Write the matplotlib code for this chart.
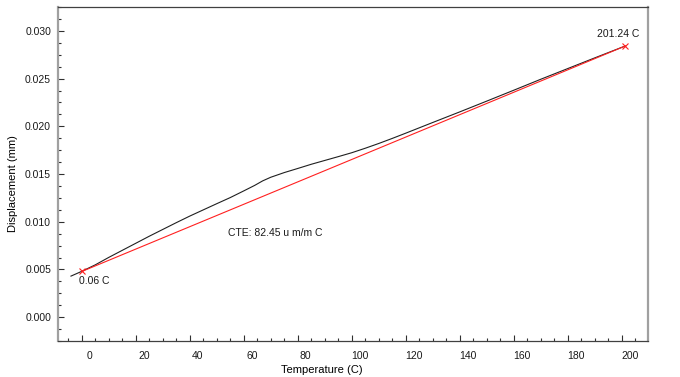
import matplotlib
matplotlib.use("Agg")
from matplotlib import pyplot as plt
from matplotlib.ticker import MultipleLocator
from matplotlib.transforms import ScaledTranslation

# measured curve (temperature in C, displacement in mm)
temp = [-4, 0, 5, 10, 15, 20, 25, 30, 35, 40, 45, 50, 55, 60, 64, 67, 70, 75, 80,
        85, 90, 95, 100, 105, 110, 115, 120, 130, 140, 150, 160, 170, 180, 190, 201.24]
disp = [0.00430, 0.00480, 0.00548, 0.00626, 0.00700, 0.00774, 0.00848, 0.00919,
        0.00990, 0.01059, 0.01124, 0.01189, 0.01253, 0.01323, 0.01380, 0.01428,
        0.01466, 0.01515, 0.01558, 0.01602, 0.01642, 0.01682, 0.01723, 0.01770,
        0.01820, 0.01873, 0.01928, 0.02040, 0.02151, 0.02264, 0.02378, 0.02493,
        0.02605, 0.02717, 0.02841]

# CTE fit line end points
fit_t = [0.06, 201.24]
fit_d = [0.00479, 0.02841]
cte_text = "CTE: 82.45 u m/m C"

plt.rcParams['font.family'] = ['Liberation Sans', 'DejaVu Sans']
plt.rcParams['font.size'] = 7.5
plt.rcParams['text.color'] = '#1a1a1a'

fig = plt.figure(figsize=(6.8, 3.77), dpi=100)
ax = fig.add_axes([58 / 680, 36 / 377, 590 / 680, 334 / 377])

ax.plot(temp, disp, c='#202020', lw=0.8)
ax.plot(fit_t, fit_d, c='#ff2020', lw=0.8)
ax.plot(fit_t, fit_d, ls='none', marker='x', ms=5, mew=0.8, c='#ff2020')

ax.text(-1, 0.00377, "%.2f C" % fit_t[0], va='center', ha='left')
ax.text(198.5, 0.0297, "%.2f C" % fit_t[1], va='center', ha='center')
ax.text(54.2, 0.00881, cte_text, va='center', ha='left')

ax.set_xlim(-8.8, 209.7)
ax.set_ylim(-0.0025, 0.0325)
ax.xaxis.set_major_locator(MultipleLocator(20))
ax.xaxis.set_minor_locator(MultipleLocator(5))
ax.yaxis.set_major_locator(MultipleLocator(0.005))
ax.yaxis.set_minor_locator(MultipleLocator(0.00125))
ax.yaxis.set_major_formatter(matplotlib.ticker.FormatStrFormatter('%.3f'))

ax.tick_params(which='both', direction='in', color='#303030', width=0.8,
               labelcolor='#1a1a1a')
ax.tick_params(which='major', length=4)
ax.tick_params(which='minor', length=2.2)
ax.tick_params(axis='x', pad=7)
ax.tick_params(axis='y', pad=5)

ax.spines['left'].set_color('#a0a0a0')
ax.spines['left'].set_linewidth(1.6)
ax.spines['right'].set_color('#a0a0a0')
ax.spines['right'].set_linewidth(1.6)
ax.spines['top'].set_color('#404040')
ax.spines['top'].set_linewidth(0.9)
ax.spines['bottom'].set_color('#404040')
ax.spines['bottom'].set_linewidth(0.9)

ax.set_xlabel("Temperature (C)", fontsize=8)
ax.set_ylabel("Displacement (mm)", fontsize=8)
ax.xaxis.set_label_coords(0.447, -0.072)
ax.yaxis.set_label_coords(-0.068, 0.47)

# tick labels of the original sit a little right of their ticks
shift = ScaledTranslation(8 / 100, 0, fig.dpi_scale_trans)
for lbl in ax.get_xticklabels():
    lbl.set_transform(lbl.get_transform() + shift)

fig.savefig("out.png", dpi=100)
